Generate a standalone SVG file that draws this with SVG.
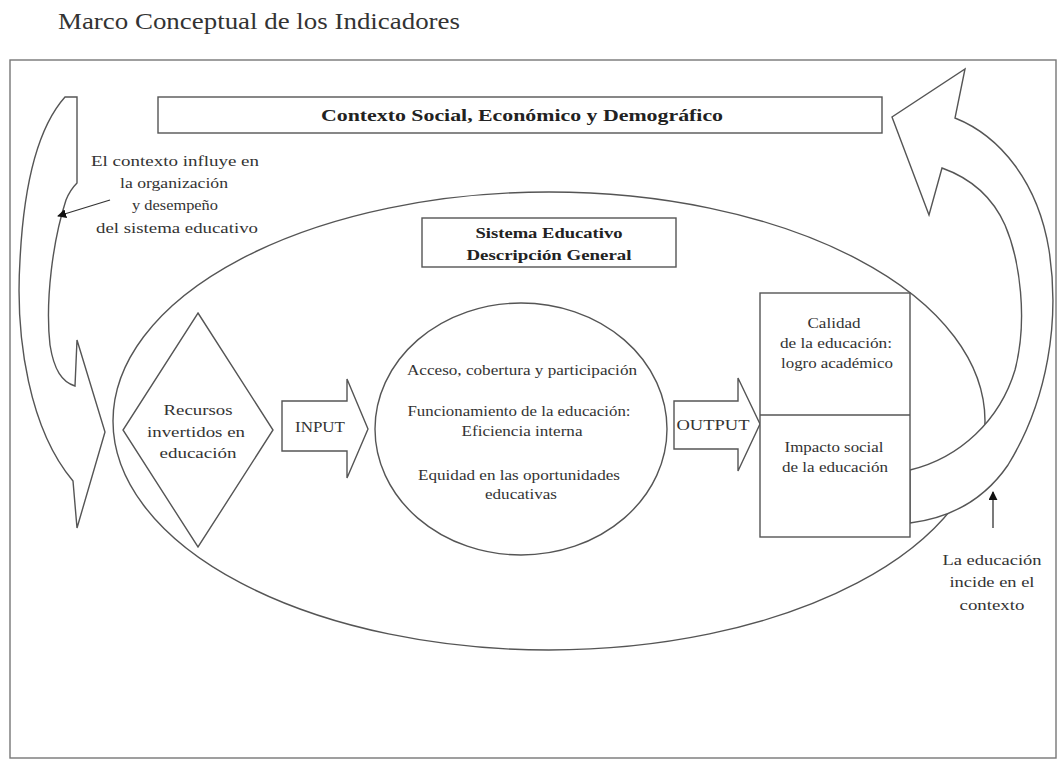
<svg xmlns="http://www.w3.org/2000/svg" width="1060" height="760" viewBox="0 0 1060 760">
<defs>
<style>
.ln{fill:none;stroke:#555;stroke-width:1.4}
.sh{fill:#fff;stroke:#555;stroke-width:1.4;stroke-linejoin:miter}
.t{font-family:"Liberation Serif","Times New Roman",serif;font-size:15px;fill:#333;text-anchor:middle}
.b{font-weight:bold;fill:#222}
.title{font-family:"Liberation Serif","Times New Roman",serif;font-size:24px;fill:#333}
</style>
<marker id="ah" viewBox="0 0 10 10" refX="9" refY="5" markerWidth="9" markerHeight="9" markerUnits="userSpaceOnUse" orient="auto">
<path d="M0,0 L10,5 L0,10 Z" fill="#111"/>
</marker>
</defs>
<rect width="1060" height="760" fill="#fff"/>
<text class="title" x="58" y="29" textLength="402" lengthAdjust="spacingAndGlyphs">Marco Conceptual de los Indicadores</text>
<rect id="frame" x="10" y="60" width="1046" height="698" fill="none" stroke="#777" stroke-width="1.4"/>

<g id="sistema-ellipse"><ellipse cx="549" cy="421" rx="436" ry="229" class="ln"/></g>

<g id="contexto">
<rect x="158" y="97" width="724" height="36" class="sh"/>
<text class="t b" x="522" y="121" style="font-size:16px" textLength="402" lengthAdjust="spacingAndGlyphs">Contexto Social, Económico y Demográfico</text>
</g>

<g id="left-arrow">
<path class="sh" d="M65,97 L77,97 L77,183 Q70,190 66,200 C53,240 45,300 50,345 C54,370 62,382 75,386 L77,340 L105,432 L77,528 L73,481 C30,430 15,340 20,260 C24,180 40,125 65,97 Z"/>
</g>

<g id="right-arrow">
<path class="sh" d="M910,470 C960,458 1000,420 1015,370 C1028,320 1020,260 1005,225 C992,196 970,178 942,168 L929,215 L892,117 L965,69 L955,118 C1000,136 1038,182 1049,250 C1060,320 1048,400 1008,465 C984,500 950,518 910,523 Z"/>
</g>

<g id="sistema-title">
<rect x="422" y="218" width="254" height="49" class="sh"/>
<text class="t b" x="549" y="238" style="font-size:14px" textLength="147" lengthAdjust="spacingAndGlyphs">Sistema Educativo</text>
<text class="t b" x="549" y="260" style="font-size:14px" textLength="165" lengthAdjust="spacingAndGlyphs">Descripción General</text>
</g>

<g id="recursos">
<path class="sh" d="M198,313 L273,430 L198,547 L123,430 Z"/>
<text class="t" x="198" y="415" textLength="69" lengthAdjust="spacingAndGlyphs">Recursos</text>
<text class="t" x="196" y="437" textLength="98" lengthAdjust="spacingAndGlyphs">invertidos en</text>
<text class="t" x="198" y="458" textLength="77" lengthAdjust="spacingAndGlyphs">educación</text>
</g>

<g id="input">
<path class="sh" d="M282,401 L347,401 L347,379 L368,429 L347,478 L347,451 L282,451 Z"/>
<text class="t" x="320" y="432" textLength="50" lengthAdjust="spacingAndGlyphs">INPUT</text>
</g>

<g id="proceso">
<ellipse cx="521" cy="429" rx="146" ry="126" class="sh"/>
<text class="t" x="522" y="375" textLength="230" lengthAdjust="spacingAndGlyphs">Acceso, cobertura y participación</text>
<text class="t" x="519" y="416" textLength="223" lengthAdjust="spacingAndGlyphs">Funcionamiento de la educación:</text>
<text class="t" x="522" y="436" textLength="121" lengthAdjust="spacingAndGlyphs">Eficiencia interna</text>
<text class="t" x="519" y="480" textLength="202" lengthAdjust="spacingAndGlyphs">Equidad en las oportunidades</text>
<text class="t" x="521" y="499" textLength="72" lengthAdjust="spacingAndGlyphs">educativas</text>
</g>

<g id="output">
<path class="sh" d="M674,401 L738,401 L738,378 L760,424 L738,471 L738,449 L674,449 Z"/>
<text class="t" x="713" y="430" textLength="73" lengthAdjust="spacingAndGlyphs">OUTPUT</text>
</g>

<g id="resultados">
<rect x="760" y="293" width="150" height="244" class="sh"/>
<line x1="760" y1="415" x2="910" y2="415" class="ln"/>
<text class="t" x="834" y="328" textLength="53" lengthAdjust="spacingAndGlyphs">Calidad</text>
<text class="t" x="836" y="348" textLength="112" lengthAdjust="spacingAndGlyphs">de la educación:</text>
<text class="t" x="837" y="368" textLength="112" lengthAdjust="spacingAndGlyphs">logro académico</text>
<text class="t" x="834" y="452" textLength="99" lengthAdjust="spacingAndGlyphs">Impacto social</text>
<text class="t" x="835" y="472" textLength="106" lengthAdjust="spacingAndGlyphs">de la educación</text>
</g>

<g id="label-left">
<text class="t" x="175" y="166" textLength="168" lengthAdjust="spacingAndGlyphs">El contexto influye en</text>
<text class="t" x="174" y="188" textLength="108" lengthAdjust="spacingAndGlyphs">la organización</text>
<text class="t" x="175" y="210" textLength="86" lengthAdjust="spacingAndGlyphs">y desempeño</text>
<text class="t" x="177" y="233" textLength="162" lengthAdjust="spacingAndGlyphs">del sistema educativo</text>
</g>

<g id="label-right">
<text class="t" x="992" y="565" textLength="99" lengthAdjust="spacingAndGlyphs">La educación</text>
<text class="t" x="992" y="587" textLength="85" lengthAdjust="spacingAndGlyphs">incide en el</text>
<text class="t" x="992" y="610" textLength="65" lengthAdjust="spacingAndGlyphs">contexto</text>
</g>

<g id="connectors">
<line x1="110" y1="200" x2="58" y2="216" stroke="#333" stroke-width="1.3" marker-end="url(#ah)"/>
<line x1="993" y1="528" x2="993" y2="492" stroke="#333" stroke-width="1.3" marker-end="url(#ah)"/>
</g>
</svg>
